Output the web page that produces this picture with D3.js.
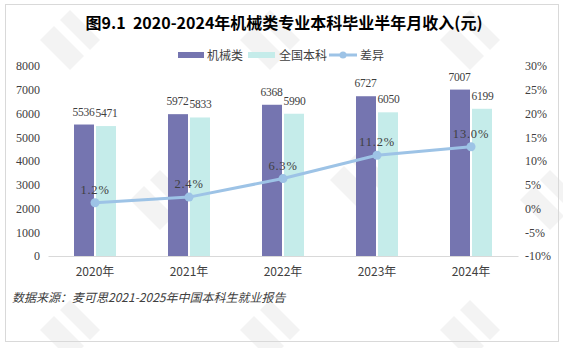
<!DOCTYPE html>
<html>
<head>
<meta charset="utf-8">
<script src="https://cdn.jsdelivr.net/npm/d3@7/dist/d3.min.js"></script>
<style>
  html, body { margin: 0; padding: 0; background: #fff; }
  svg { display: block; }
</style>
</head>
<body>
<svg id="chart" width="563" height="348"></svg>
<script>
// Data
const years = ["2020年", "2021年", "2022年", "2023年", "2024年"];
const mechanical = [5536, 5972, 6368, 6727, 7007];   // 机械类
const national = [5471, 5833, 5990, 6050, 6199];     // 全国本科
const gapPct = [1.2, 2.4, 6.3, 11.2, 13.0];          // 差异 (%)
const leftTicks = [0, 1000, 2000, 3000, 4000, 5000, 6000, 7000, 8000];
const rightTicks = [-10, -5, 0, 5, 10, 15, 20, 25, 30];

const C_MECH = "#7575B0";
const C_NAT = "#C5ECEA";
const C_LINE = "#9DC3E6";
const SERIF = "'Liberation Serif','Times New Roman',serif";
const CJK = "'Noto Sans CJK SC','Noto Sans',sans-serif";

const svg = d3.select("#chart");

// Faint background watermark
const wm = svg.append("g").attr("fill", "#f3f3f3");
const wmSpots = [[40, 10], [240, 10], [440, 10], [130, 170], [330, 150], [520, 170], [40, 300], [240, 300], [440, 300]];
wmSpots.forEach(([x, y]) => {
  const g = wm.append("g").attr("transform", `translate(${x},${y})`);
  g.append("path").attr("d", "M0,30 L14,16 L44,46 L30,60 Z");
  g.append("path").attr("d", "M20,10 L30,0 L60,30 L50,40 Z");
});

// Frame
svg.append("rect").attr("x", 5.5).attr("y", 4.5).attr("width", 553).attr("height", 337)
  .attr("fill", "none").attr("stroke", "#d9d9d9").attr("stroke-width", 1);

// Scales
const x = d3.scaleBand().domain(years).range([48, 518]);
const yL = d3.scaleLinear().domain([0, 8000]).range([256, 66]);
const yR = d3.scaleLinear().domain([-10, 30]).range([256, 66]);
const cx = d => x(d) + x.bandwidth() / 2;
const barW = 20;

// Title
svg.append("text").attr("x", 284).attr("y", 29).attr("text-anchor", "middle")
  .attr("font-family", CJK).attr("font-weight", "bold").attr("font-size", 16)
  .attr("fill", "#000").text("图9.1\u00a0\u00a02020-2024年机械类专业本科毕业半年月收入(元)");

// Legend
const lg = svg.append("g").attr("font-family", CJK).attr("font-size", 12).attr("fill", "#404040");
lg.append("rect").attr("x", 178).attr("y", 52).attr("width", 26).attr("height", 6).attr("fill", C_MECH);
lg.append("text").attr("x", 207).attr("y", 59.5).text("机械类");
lg.append("rect").attr("x", 248).attr("y", 52).attr("width", 27).attr("height", 6).attr("fill", C_NAT);
lg.append("text").attr("x", 279).attr("y", 59.5).text("全国本科");
lg.append("line").attr("x1", 329).attr("x2", 357).attr("y1", 55).attr("y2", 55)
  .attr("stroke", C_LINE).attr("stroke-width", 3);
lg.append("circle").attr("cx", 343).attr("cy", 55).attr("r", 3.5).attr("fill", C_LINE);
lg.append("text").attr("x", 360).attr("y", 59.5).text("差异");

// Left axis
const axL = svg.append("g").attr("transform", "translate(40,0)")
  .call(d3.axisLeft(yL).tickValues(leftTicks).tickSize(0).tickPadding(0).tickFormat(d3.format("d")));
axL.select(".domain").remove();
axL.selectAll("text").attr("font-family", SERIF).attr("font-size", 12).attr("fill", "#404040");

// Right axis
const axR = svg.append("g").attr("transform", "translate(525,0)")
  .call(d3.axisRight(yR).tickValues(rightTicks).tickSize(0).tickPadding(0).tickFormat(d => d + "%"));
axR.select(".domain").remove();
axR.selectAll("text").attr("font-family", SERIF).attr("font-size", 12).attr("fill", "#404040");

// Bars
svg.append("g").selectAll("rect").data(years).join("rect")
  .attr("x", (d) => cx(d) - 21).attr("width", barW)
  .attr("y", (d, i) => yL(mechanical[i])).attr("height", (d, i) => yL(0) - yL(mechanical[i]))
  .attr("fill", C_MECH);
svg.append("g").selectAll("rect").data(years).join("rect")
  .attr("x", (d) => cx(d) + 1).attr("width", barW)
  .attr("y", (d, i) => yL(national[i])).attr("height", (d, i) => yL(0) - yL(national[i]))
  .attr("fill", C_NAT);

// X axis
const axX = svg.append("g").attr("transform", "translate(0,256)")
  .call(d3.axisBottom(x).tickSize(0).tickPadding(11));
axX.select(".domain").attr("stroke", "#d9d9d9").attr("stroke-width", 1.2);
axX.selectAll("text").attr("font-family", CJK).attr("font-size", 12).attr("fill", "#404040");

// Bar value labels
const vl = svg.append("g").attr("font-family", SERIF).attr("font-size", 11.5).attr("fill", "#404040")
  .attr("text-anchor", "middle").attr("letter-spacing", -0.3);
vl.selectAll(".m").data(years).join("text").attr("class", "m")
  .attr("x", d => cx(d) - 11.5).attr("y", (d, i) => yL(mechanical[i]) - 9)
  .text((d, i) => mechanical[i]);
vl.selectAll(".n").data(years).join("text").attr("class", "n")
  .attr("x", d => cx(d) + 11.5).attr("y", (d, i) => yL(national[i]) - 9)
  .text((d, i) => national[i]);

// Difference line
const line = d3.line().x((d, i) => cx(years[i])).y(d => yR(d));
svg.append("path").datum(gapPct).attr("d", line)
  .attr("fill", "none").attr("stroke", C_LINE).attr("stroke-width", 3).attr("stroke-linejoin", "round");
svg.append("g").selectAll("circle").data(gapPct).join("circle")
  .attr("cx", (d, i) => cx(years[i])).attr("cy", d => yR(d)).attr("r", 4.5).attr("fill", C_LINE);
svg.append("g").attr("font-family", SERIF).attr("font-size", 12.5).attr("fill", "#404040")
  .attr("text-anchor", "middle").attr("letter-spacing", 0.8)
  .selectAll("text").data(gapPct).join("text")
  .attr("x", (d, i) => cx(years[i])).attr("y", d => yR(d) - 9)
  .text(d => d.toFixed(1) + "%");

// Source note
svg.append("text").attr("x", 12).attr("y", 302)
  .attr("font-family", CJK).attr("font-size", 12).attr("font-style", "italic").attr("fill", "#404040")
  .text("数据来源：麦可思2021-2025年中国本科生就业报告");
</script>
</body>
</html>
